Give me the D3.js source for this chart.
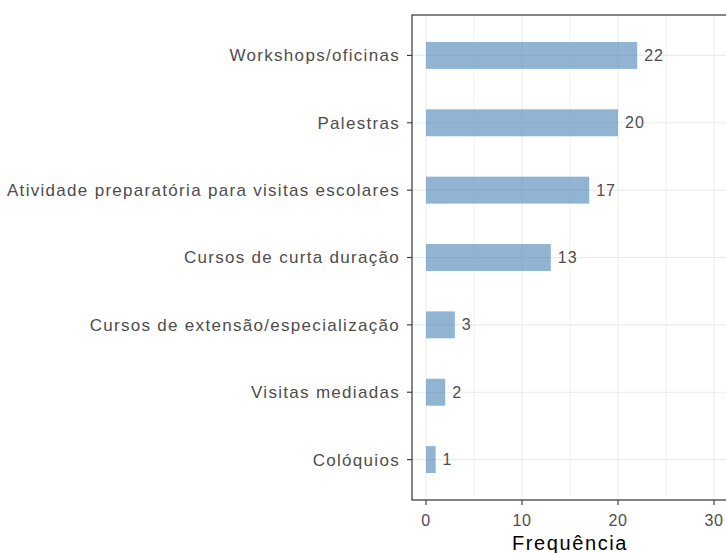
<!DOCTYPE html>
<html><head><meta charset="utf-8">
<script src="https://cdn.jsdelivr.net/npm/d3@7"></script>
<style>body{margin:0;background:#fff}svg{display:block}text{font-family:"Liberation Sans",Arial,sans-serif}</style>
</head><body><svg id="c" width="726" height="553"></svg>
<script>
const categories = ["Workshops/oficinas","Palestras","Atividade preparatória para visitas escolares","Cursos de curta duração","Cursos de extensão/especialização","Visitas mediadas","Colóquios"];
const values = [22,20,17,13,3,2,1];
const xTicks = [0,10,20,30];
const xMinor = [5,15,25];
const xTitle = "Frequência";

const svg = d3.select("#c");
const L = 412, T = 15, B = 500, R = 735;
const x = d3.scaleLinear().domain([0,30]).range([426,714]);
const step = (B-T)/(categories.length-1+1.2);
const y = d3.scalePoint().domain(categories).range([T+0.6*step, B-0.6*step]);
const barH = step*0.4;

const g = svg.append("g");
// grid
g.selectAll(".minor").data(xMinor).enter().append("line")
  .attr("x1",d=>x(d)).attr("x2",d=>x(d)).attr("y1",T).attr("y2",B)
  .attr("stroke","#ebebeb").attr("stroke-width",0.6);
g.selectAll(".major").data(xTicks).enter().append("line")
  .attr("x1",d=>x(d)).attr("x2",d=>x(d)).attr("y1",T).attr("y2",B)
  .attr("stroke","#ebebeb").attr("stroke-width",1.1);
g.selectAll(".hg").data(categories).enter().append("line")
  .attr("x1",L).attr("x2",R).attr("y1",d=>y(d)).attr("y2",d=>y(d))
  .attr("stroke","#ebebeb").attr("stroke-width",1.1);
// bars
g.selectAll(".bar").data(categories).enter().append("rect")
  .attr("x",x(0)).attr("y",d=>y(d)-barH/2)
  .attr("width",(d,i)=>x(values[i])-x(0)).attr("height",barH)
  .attr("fill","steelblue").attr("fill-opacity",0.6);
// value labels
g.selectAll(".vl").data(categories).enter().append("text")
  .attr("x",(d,i)=>x(values[i])+7).attr("y",d=>y(d)).attr("dy","0.35em")
  .attr("font-size",16).attr("letter-spacing",1).attr("fill","#4d4d4d").text((d,i)=>values[i]);
// panel border
g.append("rect").attr("x",L).attr("y",T).attr("width",R-L).attr("height",B-T)
  .attr("fill","none").attr("stroke","#333").attr("stroke-width",1.2);
// y axis ticks & labels
g.selectAll(".yt").data(categories).enter().append("line")
  .attr("x1",L-5).attr("x2",L).attr("y1",d=>y(d)).attr("y2",d=>y(d))
  .attr("stroke","#333").attr("stroke-width",1.1);
g.selectAll(".yl").data(categories).enter().append("text")
  .attr("x",L-12).attr("y",d=>y(d)).attr("dy","0.35em").attr("text-anchor","end")
  .attr("font-size",17).attr("letter-spacing",1.3).attr("fill","#4d4d4d").text(d=>d);
// x axis
g.selectAll(".xt").data(xTicks).enter().append("line")
  .attr("x1",d=>x(d)).attr("x2",d=>x(d)).attr("y1",B).attr("y2",B+5)
  .attr("stroke","#333").attr("stroke-width",1.1);
g.selectAll(".xl").data(xTicks).enter().append("text")
  .attr("x",d=>x(d)).attr("y",B+26).attr("text-anchor","middle")
  .attr("font-size",16).attr("letter-spacing",0.5).attr("fill","#4d4d4d").text(d=>d);
svg.append("text").attr("x",570).attr("y",550).attr("text-anchor","middle")
  .attr("font-size",20).attr("letter-spacing",1.6).attr("fill","#000").text(xTitle);
</script></body></html>
